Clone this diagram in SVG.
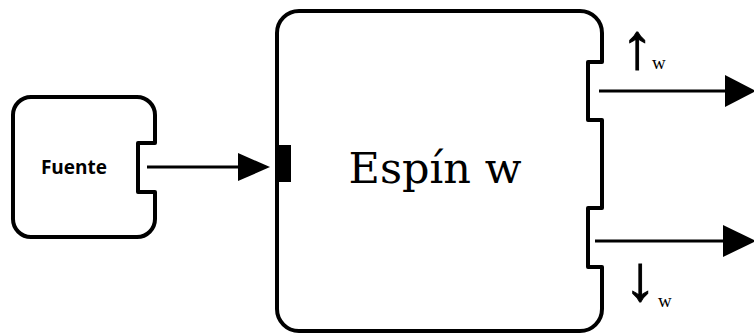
<svg xmlns="http://www.w3.org/2000/svg" width="754" height="335" viewBox="0 0 754 335">
<style>
.box{fill:#fff;stroke:#000;stroke-width:4;stroke-linejoin:round}
.ln{stroke:#000;stroke-width:3;fill:none}
.ah{fill:#000}
.arr{font-family:"Liberation Sans","DejaVu Sans",sans-serif;font-size:64px;stroke:#000;stroke-width:1}
.sub{font-family:"Liberation Serif",serif;font-size:19px}
</style>
<rect width="754" height="335" fill="#fff"/>
<g id="fuente">
<path class="box" d="M31 97H137A18 18 0 0 1 155 115V143H138V192H155V219A18 18 0 0 1 137 237H31A18 18 0 0 1 13 219V115A18 18 0 0 1 31 97Z"/>
<text x="74" y="174" text-anchor="middle" font-family="'Open Sans',sans-serif" font-weight="700" font-size="19">Fuente</text>
</g>
<g id="espin">
<path class="box" d="M299 11H580A22 22 0 0 1 602 33V62H588V120H602V208H588V267H602V309A22 22 0 0 1 580 331H299A22 22 0 0 1 277 309V33A22 22 0 0 1 299 11Z"/>
<rect x="277" y="145" width="14" height="37" fill="#000"/>
<text x="435" y="183" text-anchor="middle" font-family="'DejaVu Serif',serif" font-size="43">Espín w</text>
</g>
<g id="labels">
<text class="arr" x="637" y="68" text-anchor="middle">↑</text>
<text class="sub" x="652" y="69">w</text>
<text class="arr" x="640" y="300" text-anchor="middle">↓</text>
<text class="sub" x="658" y="307">w</text>
</g>
<g id="connectors">
<line class="ln" x1="147" y1="167" x2="240" y2="167"/>
<polygon class="ah" points="238,153 270,167 238,181"/>
<line class="ln" x1="599" y1="91" x2="727" y2="91"/>
<polygon class="ah" points="725,75 756,91 725,107"/>
<line class="ln" x1="595" y1="241" x2="726" y2="241"/>
<polygon class="ah" points="723,225 756,241 723,257"/>
</g>
</svg>
